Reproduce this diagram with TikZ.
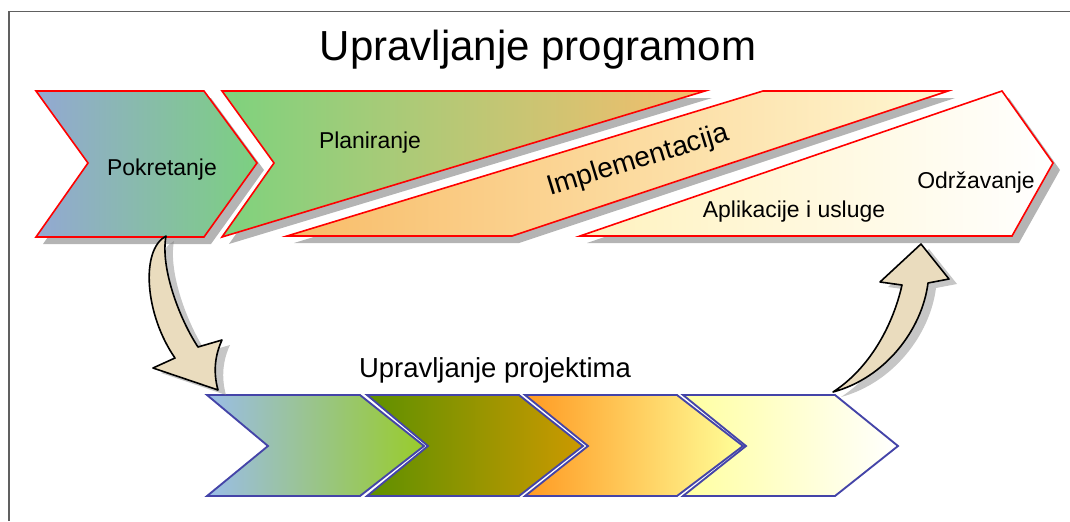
\documentclass[tikz,border=0pt]{standalone}
\usepackage{fontspec}
\setmainfont{Liberation Sans}
\definecolor{framegray}{HTML}{606060}
\definecolor{shadowgray}{HTML}{B4B4B4}
\definecolor{pokL}{HTML}{93A8D3}
\definecolor{pokR}{HTML}{7CD080}
\definecolor{plaL}{HTML}{7ED27E}
\definecolor{plaR}{HTML}{F6BD6C}
\definecolor{impL}{HTML}{F8BC68}
\definecolor{impR}{HTML}{FFF7D2}
\definecolor{aplL}{HTML}{FFF2BE}
\definecolor{aplR}{HTML}{FFFFFF}
\definecolor{bA}{HTML}{9ABDE8}
\definecolor{bB}{HTML}{99CC2A}
\definecolor{bC}{HTML}{5E9000}
\definecolor{bD}{HTML}{CC9900}
\definecolor{bE}{HTML}{FF9A22}
\definecolor{bF}{HTML}{FFFF99}
\definecolor{bG}{HTML}{FFFFA0}
\definecolor{bH}{HTML}{FFFFFF}
\definecolor{bluel}{HTML}{4444A8}
\definecolor{beige}{HTML}{EADCBE}
\tikzset{
  topshape/.style={draw=red, line width=1.2pt, line join=miter},
  botshape/.style={draw=bluel, line width=1.4pt, line join=miter},
  shadowshape/.style={fill=shadowgray, draw=none},
  bigarrow/.style={fill=beige, draw=black, line width=1.2pt, line join=round},
  arrowshadow/.style={fill=gray, opacity=0.45, draw=none},
  lbl/.style={font=\fontsize{17.2}{20}\selectfont, inner sep=0pt, anchor=base},
}
\begin{document}
\begin{tikzpicture}[x=0.75pt,y=-0.75pt]
\useasboundingbox (0,0) rectangle (1070,521);
% frame
\draw[framegray, line width=1.1pt] (9,521) -- (9,11.5) -- (1070,11.5);
% title
\node[font=\fontsize{31.5}{36}\selectfont, inner sep=0pt, anchor=base] (title) at (538,60) {Upravljanje programom};
% shadows of top shapes
\begin{scope}[shift={(7,7)}]
\fill[shadowgray] (36,91) -- (204,91) -- (257,163) -- (204,237) -- (36,237) -- (88,163) -- cycle;
\fill[shadowgray] (222,91) -- (705,91) -- (222,237) -- (274,163) -- cycle;
\fill[shadowgray] (287,236) -- (512,236) -- (948,91) -- (763,91) -- cycle;
\fill[shadowgray] (580,236) -- (1002,91) -- (1053,163) -- (1012,236) -- cycle;
\end{scope}
% top shapes
\draw[topshape, left color=pokL, right color=pokR] (36,91) -- (204,91) -- (257,163) -- (204,237) -- (36,237) -- (88,163) -- cycle;
\draw[topshape, left color=plaL, right color=plaR] (222,91) -- (705,91) -- (222,237) -- (274,163) -- cycle;
\draw[topshape, left color=impL, right color=impR] (287,236) -- (512,236) -- (948,91) -- (763,91) -- cycle;
\draw[topshape, left color=aplL, right color=aplR] (580,236) -- (1002,91) -- (1053,163) -- (1012,236) -- cycle;
% top labels
\node[lbl] (pok) at (162,175) {Pokretanje};
\node[lbl] (pla) at (370,148) {Planiranje};
\node[font=\fontsize{21}{24}\selectfont, inner sep=0pt, rotate=17] (imp) at (638,161) {Implementacija};
\node[lbl] (apl) at (794,217) {Aplikacije i usluge};
\node[lbl] (odr) at (976,188) {Održavanje};
% bottom label
\node[font=\fontsize{20.6}{24}\selectfont, inner sep=0pt, anchor=base] (proj) at (495,377) {Upravljanje projektima};
% bottom chevrons
\draw[botshape, left color=bA, right color=bB] (207,395) -- (360,395) -- (424,446) -- (360,496) -- (207,496) -- (268,446) -- cycle;
\draw[botshape, left color=bC, right color=bD] (367,395) -- (519,395) -- (583,446) -- (519,496) -- (367,496) -- (428,446) -- cycle;
\draw[botshape, left color=bE, right color=bF] (525,395) -- (677,395) -- (743,446) -- (677,496) -- (525,496) -- (588,446) -- cycle;
\draw[botshape, left color=bG, right color=bH] (683,395) -- (835,395) -- (898,446) -- (835,496) -- (683,496) -- (746,446) -- cycle;
% arrow shadows
\begin{scope}[shift={(8,5)}]
\fill[arrowshadow] (166,236) .. controls (140,250) and (145,315) .. (175,358) -- (153,368) -- (218,390) .. controls (213,372) and (215,355) .. (222,340) -- (198,347) .. controls (180,320) and (160,268) .. (166,236) -- cycle;
\fill[arrowshadow] (833,392) .. controls (870,368) and (893,325) .. (902,285) -- (880,282) -- (921,244) -- (949,279) -- (928,283) .. controls (922,330) and (885,378) .. (833,392) -- cycle;
\end{scope}
% arrows
\draw[bigarrow] (166,236) .. controls (140,250) and (145,315) .. (175,358) -- (153,368) -- (218,390) .. controls (213,372) and (215,355) .. (222,340) -- (198,347) .. controls (180,320) and (160,268) .. (166,236) -- cycle;
\draw[bigarrow] (833,392) .. controls (870,368) and (893,325) .. (902,285) -- (880,282) -- (921,244) -- (949,279) -- (928,283) .. controls (922,330) and (885,378) .. (833,392) -- cycle;
\end{tikzpicture}
\end{document}
